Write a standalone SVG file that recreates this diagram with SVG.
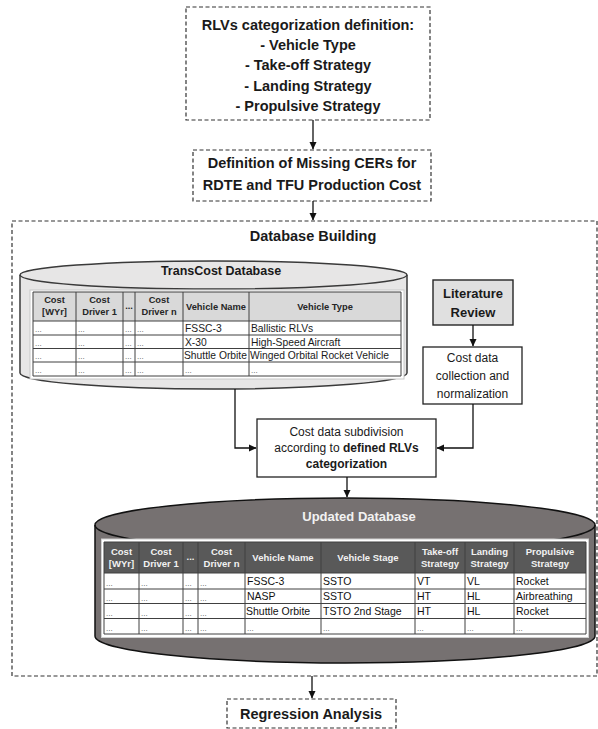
<svg xmlns="http://www.w3.org/2000/svg" width="598" height="729" viewBox="0 0 598 729">
<defs>
<marker id="arr" markerWidth="8" markerHeight="8" refX="7" refY="4" orient="auto" markerUnits="userSpaceOnUse">
<path d="M0,0.5 L7.5,4 L0,7.5 z" fill="#111"/>
</marker>
<style>
text{font-family:"Liberation Sans",Arial,sans-serif;}
.dash{fill:#fff;stroke:#333;stroke-width:1.2;stroke-dasharray:4,2.5;}
.t14{font-size:14.5px;font-weight:bold;fill:#1a1a1a;text-anchor:middle;}
.t12{font-size:12px;fill:#1a1a1a;text-anchor:middle;}
.b{font-weight:bold;}
.conn{fill:none;stroke:#111;stroke-width:1.3;marker-end:url(#arr);}
.box{fill:#fff;stroke:#222;stroke-width:1.3;}
.grid{stroke:#404040;stroke-width:1;fill:none;}
.hd{font-size:9.3px;font-weight:bold;fill:#262626;text-anchor:middle;}
.hdw{font-size:9.5px;font-weight:bold;fill:#f2f2f2;text-anchor:middle;}
.dt{font-size:10.3px;fill:#1a1a1a;}
.dt2{font-size:10.5px;fill:#111;}
.ph{font-size:8px;fill:#555;}
</style>
</defs>

<g id="rlv-definition">
<rect class="dash" x="186" y="7" width="244" height="113"/>
<text class="t14" x="308" y="30">RLVs categorization definition:</text>
<text class="t14" x="308" y="50">- Vehicle Type</text>
<text class="t14" x="308" y="70">- Take-off Strategy</text>
<text class="t14" x="308" y="91">- Landing Strategy</text>
<text class="t14" x="308" y="111">- Propulsive Strategy</text>
</g>

<g id="missing-cers">
<rect class="dash" x="193" y="150" width="238" height="51"/>
<text class="t14" x="312" y="168">Definition of Missing CERs for</text>
<text class="t14" x="312" y="190">RDTE and TFU Production Cost</text>
</g>

<g id="database-building">
<rect class="dash" x="12" y="221" width="585" height="455" fill="none"/>
<text class="t14" x="313" y="241">Database Building</text>
</g>

<g id="transcost-db">
<path d="M20,275 A193.5,14 0 0 1 407,275 L407,373 A193.5,16 0 0 1 20,373 Z" fill="#e7e6e6" stroke="#3a3a3a" stroke-width="1.5"/>
<path d="M20,275 A193.5,14 0 0 0 407,275" fill="none" stroke="#3a3a3a" stroke-width="1.5"/>
<text x="221" y="275" style="font-size:12.5px;font-weight:bold;fill:#1a1a1a;text-anchor:middle">TransCost Database</text>
<rect x="30" y="290" width="374" height="89" fill="#fff" stroke="#c8c8c8" stroke-width="1"/>
<rect x="33" y="292" width="368" height="29" fill="#d9d9d9"/>
<rect x="33" y="321" width="368" height="55" fill="#fff"/>
<path class="grid" d="M33,292H401V376H33Z M33,321H401 M33,335H401 M33,348.5H401 M33,362H401 M76,292V376 M123,292V376 M135,292V376 M183,292V376 M249,292V376"/>
<text class="hd" x="54.5" y="303">Cost</text><text class="hd" x="54.5" y="315">[WYr]</text>
<text class="hd" x="99.5" y="303">Cost</text><text class="hd" x="99.5" y="315">Driver 1</text>
<text class="hd" x="129" y="309">...</text>
<text class="hd" x="159" y="303">Cost</text><text class="hd" x="159" y="315">Driver n</text>
<text class="hd" x="216" y="310">Vehicle Name</text>
<text class="hd" x="325" y="310">Vehicle Type</text>
<g class="ph">
<text x="35" y="332">...</text><text x="78" y="332">...</text><text x="125" y="332">...</text><text x="137" y="332">...</text>
<text x="35" y="345.5">...</text><text x="78" y="345.5">...</text><text x="125" y="345.5">...</text><text x="137" y="345.5">...</text>
<text x="35" y="359">...</text><text x="78" y="359">...</text><text x="125" y="359">...</text><text x="137" y="359">...</text>
<text x="35" y="373">...</text><text x="78" y="373">...</text><text x="125" y="373">...</text><text x="137" y="373">...</text><text x="185" y="373">...</text><text x="251" y="373">...</text>
</g>
<text class="dt" x="185" y="332">FSSC-3</text><text class="dt" x="251" y="332">Ballistic RLVs</text>
<text class="dt" x="185" y="345.5">X-30</text><text class="dt" x="251" y="345.5">High-Speed Aircraft</text>
<text class="dt" x="184" y="359">Shuttle Orbite</text><text class="dt" x="250" y="359">Winged Orbital Rocket Vehicle</text>
</g>

<g id="literature-review">
<rect x="433" y="280" width="80" height="45" fill="#e0e0e0" stroke="#262626" stroke-width="1.4"/>
<text x="473" y="298" style="font-size:13px;font-weight:bold;fill:#1a1a1a;text-anchor:middle">Literature</text>
<text x="473" y="317" style="font-size:13px;font-weight:bold;fill:#1a1a1a;text-anchor:middle">Review</text>
</g>

<g id="cost-collection">
<rect class="box" x="423" y="347" width="99" height="57"/>
<text class="t12" x="472.5" y="362">Cost data</text>
<text class="t12" x="472.5" y="380">collection and</text>
<text class="t12" x="472.5" y="398">normalization</text>
</g>

<g id="cost-subdivision">
<rect class="box" x="257" y="419" width="179" height="58"/>
<text class="t12" x="346.5" y="436">Cost data subdivision</text>
<text class="t12" x="346.5" y="452">according to <tspan class="b">defined RLVs</tspan></text>
<text class="t12 b" x="346.5" y="468">categorization</text>
</g>

<g id="updated-db">
<path d="M95,525 A250,27 0 0 1 595,525 L595,636 A250,27 0 0 1 95,636 Z" fill="#767171" stroke="#111" stroke-width="1.5"/>
<path d="M95,525 A250,27 0 0 0 595,525" fill="none" stroke="#111" stroke-width="1.5"/>
<text x="359" y="521" style="font-size:13px;font-weight:bold;fill:#f2f2f2;text-anchor:middle">Updated Database</text>
<rect x="101.5" y="539" width="487" height="98.5" fill="#fff" stroke="#d0d0d0" stroke-width="1"/>
<rect x="104" y="542" width="482" height="31" fill="#595959"/>
<rect x="104" y="573" width="482" height="61" fill="#fff"/>
<path class="grid" d="M104,542H586V634H104Z M104,573H586 M104,589H586 M104,603.5H586 M104,618.5H586 M139,542V634 M183,542V634 M198,542V634 M245,542V634 M321,542V634 M415,542V634 M465,542V634 M514,542V634" stroke="#333"/>
<text class="hdw" x="121.5" y="555">Cost</text><text class="hdw" x="121.5" y="567">[WYr]</text>
<text class="hdw" x="161" y="555">Cost</text><text class="hdw" x="161" y="567">Driver 1</text>
<text class="hdw" x="190.5" y="560">...</text>
<text class="hdw" x="221.5" y="555">Cost</text><text class="hdw" x="221.5" y="567">Driver n</text>
<text class="hdw" x="283" y="561">Vehicle Name</text>
<text class="hdw" x="368" y="561">Vehicle Stage</text>
<text class="hdw" x="440" y="555">Take-off</text><text class="hdw" x="440" y="567">Strategy</text>
<text class="hdw" x="489.5" y="555">Landing</text><text class="hdw" x="489.5" y="567">Strategy</text>
<text class="hdw" x="550" y="555">Propulsive</text><text class="hdw" x="550" y="567">Strategy</text>
<g class="ph">
<text x="106" y="586">...</text><text x="141" y="586">...</text><text x="185" y="586">...</text><text x="200" y="586">...</text>
<text x="106" y="601">...</text><text x="141" y="601">...</text><text x="185" y="601">...</text><text x="200" y="601">...</text>
<text x="106" y="616">...</text><text x="141" y="616">...</text><text x="185" y="616">...</text><text x="200" y="616">...</text>
<text x="106" y="631">...</text><text x="141" y="631">...</text><text x="185" y="631">...</text><text x="200" y="631">...</text><text x="247" y="631">...</text><text x="323" y="631">...</text><text x="417" y="631">...</text><text x="467" y="631">...</text><text x="516" y="631">...</text>
</g>
<text class="dt2" x="247" y="585">FSSC-3</text><text class="dt2" x="323" y="585">SSTO</text><text class="dt2" x="417" y="585">VT</text><text class="dt2" x="467" y="585">VL</text><text class="dt2" x="516" y="585">Rocket</text>
<text class="dt2" x="247" y="600">NASP</text><text class="dt2" x="323" y="600">SSTO</text><text class="dt2" x="417" y="600">HT</text><text class="dt2" x="467" y="600">HL</text><text class="dt2" x="516" y="600">Airbreathing</text>
<text class="dt2" x="246" y="615">Shuttle Orbite</text><text class="dt2" x="323" y="615">TSTO 2nd Stage</text><text class="dt2" x="417" y="615">HT</text><text class="dt2" x="467" y="615">HL</text><text class="dt2" x="516" y="615">Rocket</text>
</g>

<g id="regression-analysis">
<rect class="dash" x="227" y="699" width="169" height="29"/>
<text class="t14" x="311" y="719">Regression Analysis</text>
</g>

<g id="connectors">
<path class="conn" d="M313,120 V149"/>
<path class="conn" d="M313,201 V220"/>
<path class="conn" d="M473,325 V346"/>
<path class="conn" d="M235,389 V448 H256"/>
<path class="conn" d="M473,404 V448 H437"/>
<path class="conn" d="M347,477 V497"/>
<path class="conn" d="M312,676 V698"/>
</g>
</svg>
